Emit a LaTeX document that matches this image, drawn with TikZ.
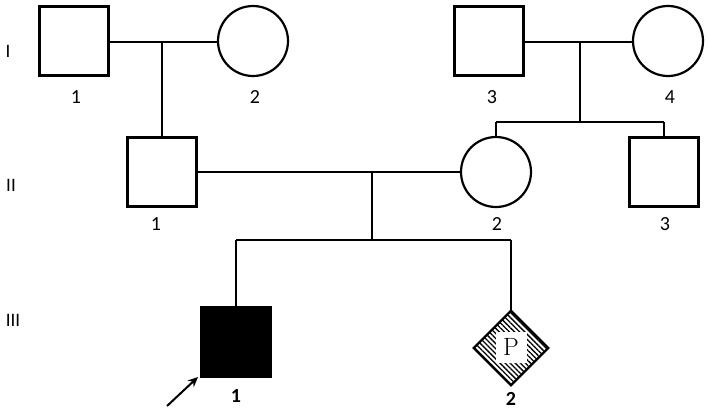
\documentclass[tikz,border=0pt]{standalone}
\usepackage{fontspec}
\setmainfont{Carlito}
\newfontfamily\serifP{Latin Modern Roman}
\usetikzlibrary{patterns,patterns.meta,shapes.geometric,arrows.meta}
\begin{document}
\begin{tikzpicture}[x=1pt,y=-1pt,
  ln/.style={line width=2.2pt},
  male/.style={draw,line width=2.2pt,rectangle,minimum size=69pt,inner sep=0pt},
  female/.style={draw,line width=2.2pt,circle,minimum size=70pt,inner sep=0pt},
  lab/.style={font=\fontsize{20}{22}\selectfont,inner sep=0pt},
  gen/.style={font=\fontsize{19}{22}\selectfont,inner sep=0pt}]
\useasboundingbox (0,0) rectangle (709,413);
% Generation I
\node[male] (I1) at (74,41) {};
\node[female] (I2) at (253,41) {};
\node[male] (I3) at (489,41) {};
\node[female] (I4) at (668,41) {};
% Generation II
\node[male] (II1) at (162,172) {};
\node[female] (II2) at (496,172) {};
\node[male] (II3) at (664,172) {};
% Generation III
\node[male,fill=black] (III1) at (236,342) {};
\node[diamond,draw,line width=2.2pt,minimum size=75pt,inner sep=0pt,
      pattern={Lines[angle=-45,distance=3.6pt,line width=1.3pt]},pattern color=black] (III2) at (511,348) {};
\node[fill=white,minimum size=31pt,inner sep=0pt,
      font=\serifP\fontsize{25}{27}\selectfont] (P) at (511,347) {P};
% couple lines
\coordinate (m1) at (162,42);
\coordinate (m2) at (580,42);
\coordinate (m3) at (372,172);
\coordinate (s2) at (580,122);
\coordinate (s2l) at (496,122);
\coordinate (s2r) at (664,122);
\coordinate (s3) at (372,240);
\coordinate (s3l) at (236,240);
\coordinate (s3r) at (511,240);
\draw[ln] (I1.east |- m1) -- (I2.west |- m1);
\draw[ln] (I3.east |- m2) -- (I4.west |- m2);
\draw[ln] (II1.east |- m3) -- (II2.west |- m3);
\draw[ln] (m1) -- (II1.north);
\draw[ln] (m2) -- (s2);
\draw[ln] (s2l) -- (s2r);
\draw[ln] (s2l) -- (II2.north);
\draw[ln] (s2r) -- (II3.north);
\draw[ln] (m3) -- (s3);
\draw[ln] (s3l) -- (s3r);
\draw[ln] (s3l) -- (III1.north);
\draw[ln] (s3r) -- (III2.north);
% labels
\node[lab] (lI1) at (76,97) {1};
\node[lab] (lI2) at (255,97) {2};
\node[lab] (lI3) at (492,97) {3};
\node[lab] (lI4) at (670,97) {4};
\node[lab] (lII1) at (156,224) {1};
\node[lab] (lII2) at (497,224) {2};
\node[lab] (lII3) at (665,224) {3};
\node[lab,font=\bfseries\fontsize{20}{22}\selectfont] (lIII1) at (236,396) {1};
\node[lab,font=\bfseries\fontsize{20}{22}\selectfont] (lIII2) at (511,399) {2};
\node[gen] (gI) at (8,51) {I};
\node[gen] (gII) at (11,185) {II};
\node[gen] (gIII) at (13,320) {III};
% proband arrow
\coordinate (arrT) at (167,406);
\coordinate (arrH) at (198,377);
\draw[line width=2pt,-{Stealth[length=10pt,width=9pt]}] (arrT) -- (arrH);
\end{tikzpicture}
\end{document}
